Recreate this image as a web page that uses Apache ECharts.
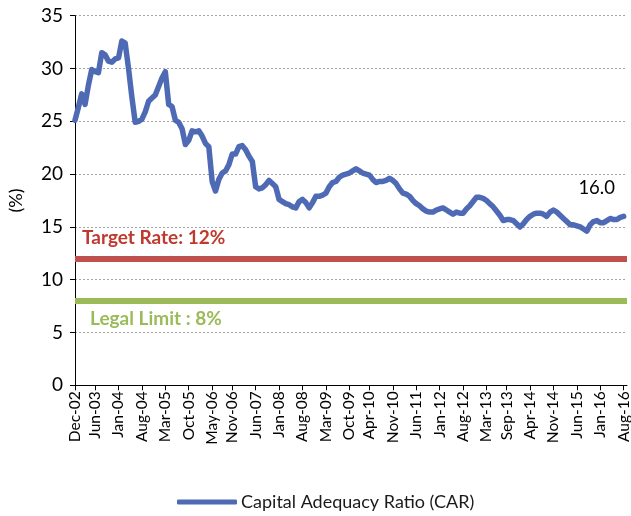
<!DOCTYPE html>
<html>
<head>
<meta charset="utf-8">
<script src="https://cdn.jsdelivr.net/npm/echarts@6/dist/echarts.min.js"></script>
<style>
  html, body { margin: 0; padding: 0; background: #fff; }
  #chart { width: 631px; height: 516px; }
</style>
</head>
<body>
<div id="chart"></div>
<script>
  // monthly CAR, Dec-02 .. Aug-16
  let carValues = [
    25.1, 26.3, 27.6, 26.6, 28.4, 29.9, 29.7, 29.6, 31.5, 31.3,
    30.7, 30.6, 30.9, 31.0, 32.6, 32.4, 30.0, 27.3, 24.9, 25.0,
    25.2, 25.9, 26.9, 27.2, 27.5, 28.3, 29.1, 29.7, 26.6, 26.4,
    25.1, 24.9, 24.3, 22.8, 23.2, 24.1, 24.0, 24.1, 23.6, 22.9,
    22.6, 19.3, 18.4, 19.5, 20.1, 20.3, 20.9, 21.9, 21.9, 22.6,
    22.7, 22.3, 21.7, 21.2, 18.8, 18.6, 18.7, 19.0, 19.4, 19.1,
    18.8, 17.6, 17.4, 17.2, 17.1, 16.9, 16.8, 17.4, 17.6, 17.3,
    16.8, 17.3, 17.9, 17.9, 18.0, 18.2, 18.8, 19.2, 19.3, 19.7,
    19.9, 20.0, 20.1, 20.3, 20.5, 20.3, 20.1, 20.0, 19.9, 19.5,
    19.2, 19.3, 19.3, 19.4, 19.6, 19.4, 19.1, 18.6, 18.2, 18.1,
    17.9, 17.5, 17.2, 17.0, 16.7, 16.5, 16.4, 16.4, 16.6, 16.7,
    16.8, 16.6, 16.4, 16.2, 16.4, 16.3, 16.3, 16.7, 17.0, 17.4,
    17.8, 17.8, 17.7, 17.5, 17.2, 16.9, 16.5, 16.1, 15.6, 15.7,
    15.7, 15.6, 15.3, 15.0, 15.3, 15.7, 16.0, 16.2, 16.3, 16.3,
    16.2, 16.0, 16.4, 16.6, 16.4, 16.1, 15.8, 15.5, 15.2, 15.2,
    15.1, 15.0, 14.8, 14.6, 15.2, 15.5, 15.6, 15.4, 15.4, 15.6,
    15.8, 15.7, 15.7, 15.9, 16.0
  ]
  let tickLabels = ['Dec-02', 'Jun-03', 'Jan-04', 'Aug-04', 'Mar-05', 'Oct-05', 'May-06', 'Nov-06',
    'Jun-07', 'Jan-08', 'Aug-08', 'Mar-09', 'Oct-09', 'Apr-10', 'Nov-10', 'Jun-11', 'Jan-12',
    'Aug-12', 'Mar-13', 'Sep-13', 'Apr-14', 'Nov-14', 'Jun-15', 'Jan-16', 'Aug-16']
  let targetRate = 12
  let legalLimit = 8
  let seriesName = 'Capital Adequacy Ratio (CAR)'

  // month names Dec-02 .. Sep-16 (one extra slot closes the axis like the original)
  let monthNames = ['Jan', 'Feb', 'Mar', 'Apr', 'May', 'Jun', 'Jul', 'Aug', 'Sep', 'Oct', 'Nov', 'Dec']
  let categories = []
  for (let i = 0; i <= carValues.length; i++) {
    let m = (11 + i) % 12
    let y = 2 + Math.floor((11 + i) / 12)
    categories.push(monthNames[m] + '-' + (y < 10 ? '0' + y : '' + y))
  }
  let showTick = (index, value) => tickLabels.indexOf(value) > -1

  let font = 'Lato, "Open Sans", sans-serif'
  let lineColor = '#4e6ab5'
  let chart = echarts.init(document.getElementById('chart'))
  let option = {
    animation: false,
    textStyle: { fontFamily: font },
    grid: {
      left: 75, right: 4, top: 15.7, bottom: 130.7,
      containLabel: false, outerBoundsMode: 'none'
    },
    legend: {
      left: 172, top: 488,
      icon: 'roundRect',
      itemWidth: 60, itemHeight: 5,
      textStyle: { fontSize: 18, color: '#1a1a1a', fontFamily: font, padding: [0, 0, 0, -1] },
      data: [seriesName]
    },
    xAxis: {
      type: 'category',
      boundaryGap: false,
      data: categories,
      axisLine: { lineStyle: { color: '#000', width: 1 } },
      axisTick: { show: true, interval: showTick, length: 5, lineStyle: { color: '#000' } },
      axisLabel: {
        interval: showTick, rotate: 90, fontSize: 15.5, color: '#000', margin: 6, fontFamily: font
      },
      splitLine: { show: false }
    },
    yAxis: {
      type: 'value',
      min: 0, max: 35, interval: 5,
      name: '(%)',
      nameLocation: 'middle',
      nameGap: 50,
      nameTextStyle: { fontSize: 18, color: '#000', fontFamily: font },
      axisLine: { show: true, lineStyle: { color: '#000', width: 1 } },
      axisTick: { show: true, length: 5, lineStyle: { color: '#000' } },
      axisLabel: { fontSize: 19, color: '#000', margin: 12, fontFamily: font },
      splitLine: { show: true, lineStyle: { color: '#a6a6a6', type: [2, 2], width: 1 } }
    },
    series: [{
      name: seriesName,
      type: 'line',
      data: carValues,
      symbol: 'none',
      smooth: false,
      lineStyle: { width: 5.5, color: lineColor, join: 'round', cap: 'round' },
      itemStyle: { color: lineColor },
      z: 3,
      markLine: {
        silent: true,
        symbol: 'none',
        data: [{
          yAxis: targetRate,
          lineStyle: { color: '#bf504d', width: 6, type: 'solid' },
          label: {
            position: 'insideStartTop',
            formatter: 'Target Rate: ' + targetRate + '%',
            color: '#c0392f', fontWeight: 'bold', fontSize: 19, fontFamily: font,
            distance: [7, 11]
          }
        }, {
          yAxis: legalLimit,
          lineStyle: { color: '#9bbb59', width: 6, type: 'solid' },
          label: {
            position: 'insideStartBottom',
            formatter: 'Legal Limit : ' + legalLimit + '%',
            color: '#9bbb59', fontWeight: 'bold', fontSize: 19, fontFamily: font,
            distance: [15, 9]
          }
        }]
      },
      markPoint: {
        symbol: 'circle', symbolSize: 0,
        data: [{
          coord: [carValues.length - 1, carValues[carValues.length - 1]],
          value: carValues[carValues.length - 1]
        }],
        label: {
          show: true,
          formatter: (p) => p.value.toFixed(1),
          fontSize: 18.5, color: '#000', fontFamily: font,
          offset: [-27, -28]
        }
      }
    }]
  }
  chart.setOption(option)
</script>
</body>
</html>
